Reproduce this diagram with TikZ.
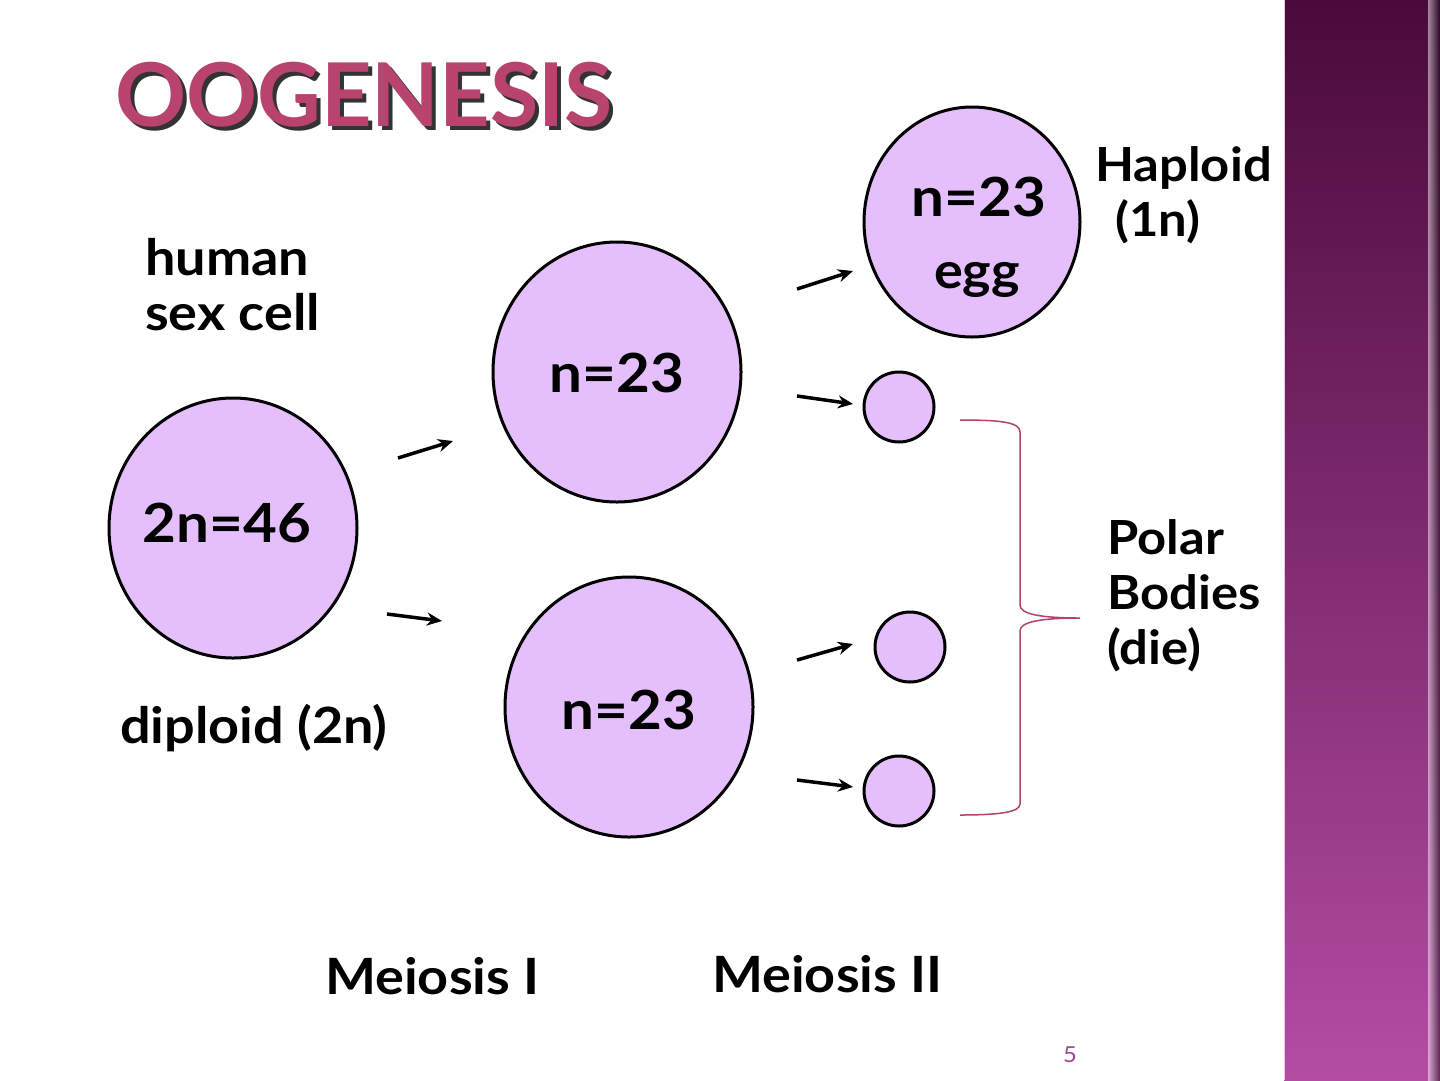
\documentclass[tikz,border=0pt]{standalone}
\usepackage{fontspec}
\setmainfont{Lato}[FakeStretch=1.08]
\newfontfamily\titlefont{Lato}[FakeStretch=1.0]
\usetikzlibrary{arrows.meta,shapes.geometric}
\definecolor{cellfill}{HTML}{E4BFFB}
\definecolor{titlecol}{HTML}{B8436F}
\definecolor{barTop}{HTML}{4A0A3A}
\definecolor{barBot}{HTML}{B44CA4}
\definecolor{bracecol}{HTML}{B5406E}
\definecolor{numcol}{HTML}{9B4A8F}
\tikzset{
  cell/.style={draw=black, line width=3pt, fill=cellfill, ellipse, inner sep=0pt},
  lbl/.style={font=\fontsize{54}{60}\selectfont\bfseries, inner sep=0pt},
  side/.style={font=\fontsize{50}{55}\selectfont\bfseries, inner sep=0pt, align=left},
  rside/.style={font=\fontsize{47}{55}\selectfont\bfseries, inner sep=0pt, align=left},
  arr/.style={line width=3.5pt, -{Stealth[length=15pt,width=13pt]}},
}
\begin{document}
\begin{tikzpicture}[x=1pt,y=-1pt]
\useasboundingbox (0,0) rectangle (1440,1080);
\fill[white] (0,0) rectangle (1440,1080);
% side bar
\shade[top color=barTop, bottom color=barBot] (1284,0) rectangle (1440,1080);
\shade[left color=barBot!0!black!0, right color=black, opacity=0.5] (1428,0) rectangle (1440,1080);
\draw[white!70!barBot, line width=1pt] (1284,0) -- (1284,1080);
% title (with drop shadow)
\node[font=\titlefont\fontsize{88}{96}\selectfont\bfseries, anchor=west, inner sep=0pt] (title) at (115,97)
  {\rlap{\hspace*{4pt}\raisebox{-4pt}{\color{black!80}OOGENESIS}}\textcolor{titlecol}{OOGENESIS}};
% cells
\node[cell, minimum width=248pt, minimum height=260pt] (mother) at (233,528) {};
\node[lbl] at (227,523) {2n=46};
\node[cell, minimum width=248pt, minimum height=260pt] (top) at (617,372) {};
\node[lbl] at (617,373) {n=23};
\node[cell, minimum width=248pt, minimum height=260pt] (bot) at (629,707) {};
\node[lbl] at (629,710) {n=23};
\node[cell, minimum width=216pt, minimum height=230pt] (egg) at (972,222) {};
\node[lbl] (eggn) at (979,197) {n=23};
\node[side] (eggl) at (977,280) {egg};
\node[cell, minimum width=70pt, minimum height=70pt] (p1) at (899,407) {};
\node[cell, minimum width=70pt, minimum height=70pt] (p2) at (910,647) {};
\node[cell, minimum width=70pt, minimum height=70pt] (p3) at (899,791) {};
% arrows
\coordinate (a1s) at (398,458); \coordinate (a1e) at (453,441);
\coordinate (a2s) at (387,614); \coordinate (a2e) at (442,621);
\coordinate (a3s) at (797,289); \coordinate (a3e) at (853,271);
\coordinate (a4s) at (797,396); \coordinate (a4e) at (853,404);
\coordinate (a5s) at (797,660); \coordinate (a5e) at (853,644);
\coordinate (a6s) at (797,780); \coordinate (a6e) at (853,787);
\draw[arr] (a1s) -- (a1e);
\draw[arr] (a2s) -- (a2e);
\draw[arr] (a3s) -- (a3e);
\draw[arr] (a4s) -- (a4e);
\draw[arr] (a5s) -- (a5e);
\draw[arr] (a6s) -- (a6e);
% brace
\coordinate (bt) at (960,420);
\coordinate (bb) at (960,815);
\coordinate (tip) at (1080,618);
\draw[bracecol, line width=1.5pt]
  (bt) .. controls (1000,420) and (1020,422) .. (1020,432)
  -- (1020,605) .. controls (1020,614) and (1040,618) .. (tip)
  .. controls (1040,618) and (1020,622) .. (1020,631)
  -- (1020,804) .. controls (1020,812) and (1000,815) .. (bb);
% labels
\node[side, anchor=north west] (human) at (145,238) {human\\sex cell};
\node[side, anchor=north west] (dip) at (120,704) {diploid (2n)};
\node[rside, anchor=north west] (hap) at (1095,146) {Haploid\\\hspace*{20pt}(1n)};
\node[rside, anchor=north west] (polar) at (1107,519) {Polar\\Bodies\\(die)};
\node[side, anchor=north west] (m1) at (325,957) {Meiosis I};
\node[side, anchor=north west] (m2) at (712,955) {Meiosis II};
\node[font=\fontsize{22}{26}\selectfont, text=numcol, inner sep=0pt] (pg) at (1070,1055) {5};
\end{tikzpicture}
\end{document}
